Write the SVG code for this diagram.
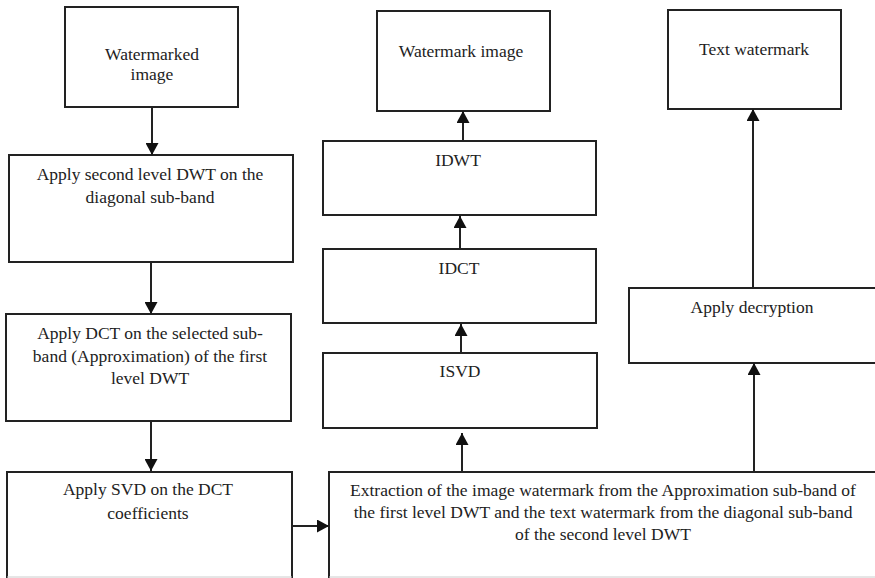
<svg xmlns="http://www.w3.org/2000/svg" width="875" height="578" viewBox="0 0 875 578">
<style>
.box{fill:#fff;stroke:#222;stroke-width:2}
.open{fill:none;stroke:#222;stroke-width:2}
.lbl{font-family:"Liberation Serif","Times New Roman",serif;font-size:17.5px;fill:#222;text-anchor:middle}
.con{fill:none;stroke:#222;stroke-width:2}
</style>
<defs>
<marker id="ah" viewBox="0 0 12 13" refX="12" refY="6.5" markerWidth="12" markerHeight="13" orient="auto" markerUnits="userSpaceOnUse">
<path d="M0,0 L12,6.5 L0,13 z" fill="#111"/>
</marker>
</defs>
<rect width="875" height="578" fill="#fff"/>
<g id="n1"><rect class="box" x="65" y="7" width="173" height="100"/><text class="lbl" x="152" y="60">Watermarked</text><text class="lbl" x="152" y="80">image</text></g>
<g id="n2"><rect class="box" x="9" y="155" width="284" height="107"/><text class="lbl" x="150" y="180">Apply second level DWT on the</text><text class="lbl" x="150" y="203">diagonal sub-band</text></g>
<g id="n3"><rect class="box" x="6" y="314" width="285" height="107"/><text class="lbl" x="150" y="339">Apply DCT on the selected sub-</text><text class="lbl" x="150" y="362">band (Approximation) of the first</text><text class="lbl" x="150" y="384">level DWT</text></g>
<g id="n4"><path class="open" d="M7,580 V472 H292 V580"/><line x1="7" y1="577" x2="292" y2="577" stroke="#ccc" stroke-width="1"/><text class="lbl" x="148" y="495">Apply SVD on the DCT</text><text class="lbl" x="148" y="519">coefficients</text></g>
<g id="n5"><path class="open" d="M329,580 V472 H880"/><line x1="329" y1="577" x2="875" y2="577" stroke="#ccc" stroke-width="1"/><text class="lbl" x="603" y="496">Extraction of the image watermark from the Approximation sub-band of</text><text class="lbl" x="603" y="518">the first level DWT and the text watermark from the diagonal sub-band</text><text class="lbl" x="603" y="540">of the second level DWT</text></g>
<g id="n6"><rect class="box" x="323" y="353" width="274" height="75"/><text class="lbl" x="460" y="377">ISVD</text></g>
<g id="n7"><rect class="box" x="323" y="249" width="273" height="74"/><text class="lbl" x="459" y="274">IDCT</text></g>
<g id="n8"><rect class="box" x="323" y="141" width="273" height="74"/><text class="lbl" x="458" y="166">IDWT</text></g>
<g id="n9"><rect class="box" x="377" y="11" width="173" height="100"/><text class="lbl" x="461" y="57">Watermark image</text></g>
<g id="n10"><rect class="box" x="629" y="288" width="260" height="75"/><text class="lbl" x="752" y="313">Apply decryption</text></g>
<g id="n11"><rect class="box" x="668" y="10" width="173" height="99"/><text class="lbl" x="754" y="55">Text watermark</text></g>
<g id="connectors">
<line class="con" x1="152" y1="107" x2="152" y2="155" marker-end="url(#ah)"/>
<line class="con" x1="151" y1="262" x2="151" y2="314" marker-end="url(#ah)"/>
<line class="con" x1="151" y1="421" x2="151" y2="471" marker-end="url(#ah)"/>
<line class="con" x1="292" y1="526" x2="329" y2="526" marker-end="url(#ah)"/>
<line class="con" x1="462" y1="472" x2="462" y2="433" marker-end="url(#ah)"/>
<line class="con" x1="461" y1="353" x2="461" y2="324" marker-end="url(#ah)"/>
<line class="con" x1="460" y1="249" x2="460" y2="216" marker-end="url(#ah)"/>
<line class="con" x1="463" y1="141" x2="463" y2="111" marker-end="url(#ah)"/>
<line class="con" x1="754" y1="472" x2="754" y2="363" marker-end="url(#ah)"/>
<line class="con" x1="753" y1="288" x2="753" y2="109" marker-end="url(#ah)"/>
</g>
</svg>
